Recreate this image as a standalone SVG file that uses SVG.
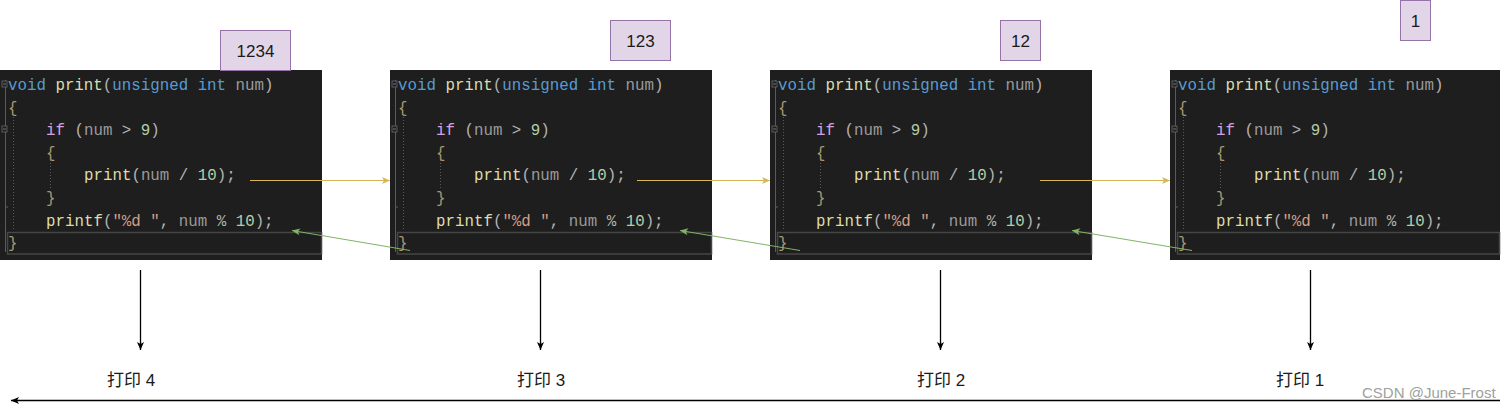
<svg xmlns="http://www.w3.org/2000/svg" xmlns:xlink="http://www.w3.org/1999/xlink" width="1509" height="409" viewBox="0 0 1509 409">
<style>
.bg{fill:#1e1e1e}
.hl{fill:none;stroke:#464646;stroke-width:1.5}
.code{font-family:"Liberation Mono","DejaVu Sans Mono",monospace;font-size:15.8px;fill:#b4b4b4}
.kw{fill:#569cd6}.fn{fill:#dcdcaa}.pm{fill:#9a9a9a}.ctl{fill:#d8a0df}.nm{fill:#b5cea8}.st{fill:#d69d85}.br{fill:#a89870}
.gut{stroke:#5a5a5a;stroke-width:1;fill:none}
.dot{stroke:#5a5a5a;stroke-width:1;stroke-dasharray:1 2;fill:none}
.box{fill:#e1d5e7;stroke:#9673a6;stroke-width:1}
.boxt{font-family:"Liberation Sans",Arial,sans-serif;font-size:17px;fill:#1a1a1a;text-anchor:middle}
.lbl{font-family:"Liberation Sans","Noto Sans CJK SC",sans-serif;font-size:17px;fill:#1a1a1a;text-anchor:middle}
.wm{font-family:"Liberation Sans",Arial,sans-serif;font-size:15px;fill:#a0a0a0}
.yel{stroke:#d6b656;stroke-width:1;fill:none}
.grn{stroke:#82b366;stroke-width:1;fill:none}
.blk{stroke:#000;stroke-width:1.3;fill:none}
</style>
<defs>
<marker id="ay" markerUnits="userSpaceOnUse" markerWidth="10" markerHeight="10" viewBox="0 0 10 10" refX="9" refY="5" orient="auto"><path d="M1,1.5 L9,5 L1,8.5 L3,5 z" fill="#d6b656"/></marker>
<marker id="ag" markerUnits="userSpaceOnUse" markerWidth="10" markerHeight="10" viewBox="0 0 10 10" refX="9" refY="5" orient="auto"><path d="M1,1.5 L9,5 L1,8.5 L3,5 z" fill="#82b366"/></marker>
<marker id="ab" markerUnits="userSpaceOnUse" markerWidth="10" markerHeight="10" viewBox="0 0 10 10" refX="9" refY="5" orient="auto"><path d="M1,1.5 L9,5 L1,8.5 L3,5 z" fill="#000"/></marker>
<g id="code">
<path class="gut" d="M5.5,80 V252"/>
<rect x="2" y="81" width="5" height="6" fill="#1e1e1e" stroke="#6a6a6a" stroke-width="0.8"/>
<path d="M3,84 H6" stroke="#8a8a8a" stroke-width="0.8"/>
<rect x="2" y="126" width="5" height="6" fill="#1e1e1e" stroke="#6a6a6a" stroke-width="0.8"/>
<path d="M3,129 H6" stroke="#8a8a8a" stroke-width="0.8"/>
<path class="gut" d="M5.5,207 H8"/>
<path class="dot" d="M13.5,117 V230"/>
<path class="dot" d="M50.5,160 V190"/>
<text class="code" xml:space="preserve"><tspan x="8" y="90"><tspan class="kw">void</tspan> <tspan class="fn">print</tspan>(<tspan class="kw">unsigned</tspan> <tspan class="kw">int</tspan> <tspan class="pm">num</tspan>)</tspan><tspan x="8" y="112.6" class="br">{</tspan><tspan x="46" y="135.2"><tspan class="ctl">if</tspan> (<tspan class="pm">num</tspan> &gt; <tspan class="nm">9</tspan>)</tspan><tspan x="46" y="157.8" class="br">{</tspan><tspan x="84" y="180.4"><tspan class="fn">print</tspan>(<tspan class="pm">num</tspan> / <tspan class="nm">10</tspan>);</tspan><tspan x="46" y="203" class="br">}</tspan><tspan x="46" y="225.6"><tspan class="fn">printf</tspan>(<tspan class="st">"%d "</tspan>, <tspan class="pm">num</tspan> % <tspan class="nm">10</tspan>);</tspan><tspan x="8" y="248.2" class="br">}</tspan></text>
</g>
</defs>
<g id="node-panel-1">
<rect class="bg" x="0" y="70" width="322" height="190"/>
<rect class="hl" x="7.5" y="232.5" width="314" height="21.5"/>
<use xlink:href="#code" x="0" y="0"/>
</g>
<g id="node-panel-2">
<rect class="bg" x="390" y="70" width="322" height="190"/>
<rect class="hl" x="397.5" y="232.5" width="314" height="21.5"/>
<use xlink:href="#code" x="390" y="0"/>
</g>
<g id="node-panel-3">
<rect class="bg" x="770" y="70" width="322" height="190"/>
<rect class="hl" x="777.5" y="232.5" width="314" height="21.5"/>
<use xlink:href="#code" x="770" y="0"/>
</g>
<g id="node-panel-4">
<rect class="bg" x="1170" y="70" width="330" height="190"/>
<rect class="hl" x="1177.5" y="232.5" width="322" height="21.5"/>
<use xlink:href="#code" x="1170" y="0"/>
</g>
<g id="node-val-1234"><rect class="box" x="220.5" y="30.5" width="70" height="40"/><text class="boxt" x="255.5" y="57">1234</text></g>
<g id="node-val-123"><rect class="box" x="610.5" y="20.5" width="60" height="40"/><text class="boxt" x="640.5" y="47">123</text></g>
<g id="node-val-12"><rect class="box" x="1000.5" y="20.5" width="40" height="40"/><text class="boxt" x="1020.5" y="47">12</text></g>
<g id="node-val-1"><rect class="box" x="1400.5" y="0.5" width="30" height="40"/><text class="boxt" x="1415.5" y="27">1</text></g>
<g id="node-print-4"><text class="lbl" x="131" y="386">打印 4</text></g>
<g id="node-print-3"><text class="lbl" x="541" y="386">打印 3</text></g>
<g id="node-print-2"><text class="lbl" x="941" y="386">打印 2</text></g>
<g id="node-print-1"><text class="lbl" x="1300" y="386">打印 1</text></g>
<g id="connectors">
<path class="yel" d="M250,180.5 H390" marker-end="url(#ay)"/>
<path class="yel" d="M637,180.5 H770" marker-end="url(#ay)"/>
<path class="yel" d="M1040,180.5 H1170" marker-end="url(#ay)"/>
<path class="grn" d="M410,250.5 L292,230.5" marker-end="url(#ag)"/>
<path class="grn" d="M800,250.5 L680,230.5" marker-end="url(#ag)"/>
<path class="grn" d="M1192,250.5 L1072,230.5" marker-end="url(#ag)"/>
<path class="blk" d="M140.5,270 V350" marker-end="url(#ab)"/>
<path class="blk" d="M540.5,270 V350" marker-end="url(#ab)"/>
<path class="blk" d="M940.5,270 V350" marker-end="url(#ab)"/>
<path class="blk" d="M1310.5,270 V350" marker-end="url(#ab)"/>
<path class="blk" d="M1500,400.5 H11" marker-end="url(#ab)"/>
</g>
<text class="wm" x="1362" y="398">CSDN @June-Frost</text>
</svg>
